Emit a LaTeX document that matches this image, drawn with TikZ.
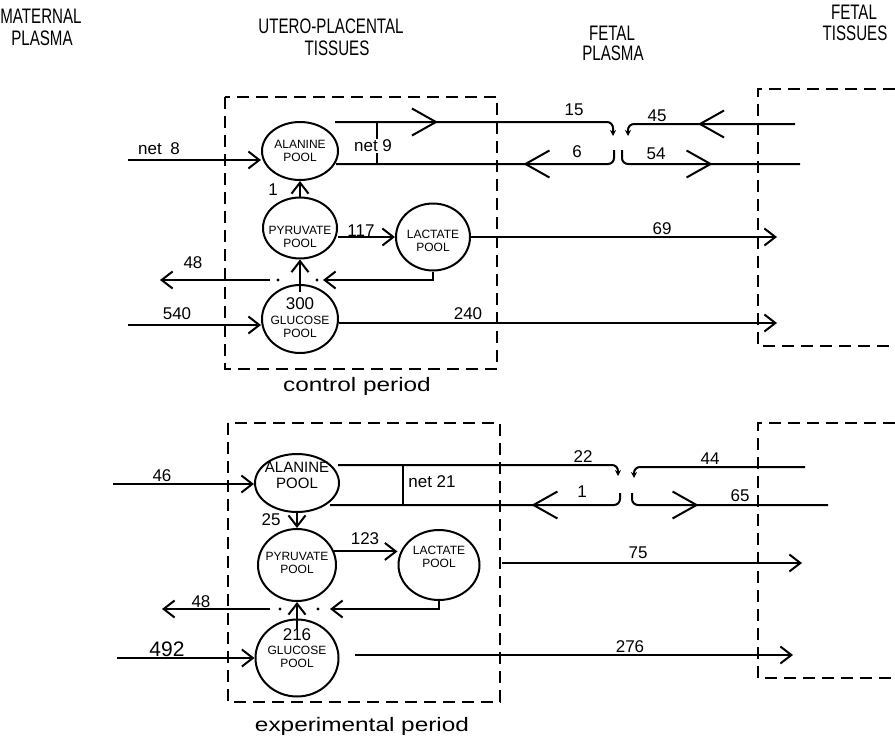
\documentclass[tikz,border=0pt]{standalone}
\usepackage{fontspec}
\setmainfont{Liberation Sans}
\usetikzlibrary{arrows.meta,shapes.geometric,decorations.markings}
\newcommand\hdrtxt[1]{\scalebox{0.72}[1]{\fontsize{21}{21}\selectfont #1}}
\newcommand\capttxt[1]{\scalebox{1.25}[1]{\fontsize{19.5}{20}\selectfont #1}}
\tikzset{
  flow/.style={line width=2pt},
  arr/.style={-{Straight Barb[length=11pt,width=17pt]}},
  tipS/.style={-{Stealth[length=6pt,width=6pt]}},
  bigR/.style={postaction={decorate,decoration={markings,mark=at position #1 with {\arrow{Straight Barb[length=24pt,width=27pt]}}}}},
  boxline/.style={line width=2pt, dash pattern=on 12pt off 7pt},
  pool/.style={ellipse, draw, line width=2pt, inner sep=0pt},
  ptxt/.style={align=center, inner sep=0pt, font=\fontsize{12}{13}\selectfont},
  num/.style={inner sep=0pt, font=\fontsize{17}{17}\selectfont},
  hdr/.style={inner sep=0pt},
}
\begin{document}
\begin{tikzpicture}[x=1pt,y=-1pt]
\useasboundingbox (0,0) rectangle (895,742);
\fill[white] (0,0) rectangle (895,742);

% headers
\node[hdr] (h1) at (41,16) {\hdrtxt{MATERNAL}};
\node[hdr] (h2) at (42,38) {\hdrtxt{PLASMA}};
\node[hdr] (h3) at (331,26) {\hdrtxt{UTERO-PLACENTAL}};
\node[hdr] (h4) at (337,48) {\hdrtxt{TISSUES}};
\node[hdr] (h5) at (612,33) {\hdrtxt{FETAL}};
\node[hdr] (h6) at (613,53) {\hdrtxt{PLASMA}};
\node[hdr] (h7) at (854,12) {\hdrtxt{FETAL}};
\node[hdr] (h8) at (855,33) {\hdrtxt{TISSUES}};

% ================= control period =================
\draw[boxline] (225,97) rectangle (497,369);
\draw[boxline] (895,89) -- (758,89) -- (758,346) -- (895,346);

\node[pool, minimum width=76pt, minimum height=58pt] (alaT) at (300,151) {};
\node[pool, minimum width=74pt, minimum height=61pt] (pyrT) at (300,228) {};
\node[pool, minimum width=74pt, minimum height=67pt] (lacT) at (433,237) {};
\node[pool, minimum width=76pt, minimum height=68pt] (gluT) at (300,319) {};
\node[ptxt] (talaT) at (300,151) {ALANINE\\POOL};
\node[ptxt] (tpyrT) at (300,237) {PYRUVATE\\POOL};
\node[ptxt] (tlacT) at (433,241) {LACTATE\\POOL};
\node[ptxt] (tgluT) at (300,318) {{\fontsize{17}{17}\selectfont 300}\\[2pt]GLUCOSE\\POOL};

\coordinate (m8) at (128,160);
\draw[flow,arr] (m8) -- (alaT.west |- m8);
\draw[flow,arr] (pyrT.north) -- (alaT.south);
\draw[flow,arr] (pyrT.east |- lacT.west) -- (lacT.west);
\draw[flow,arr] ([yshift=-8pt]gluT.north) -- (pyrT.south);
\coordinate (l48) at (323,280);
\draw[flow,arr] (lacT.south) |- (l48);
\coordinate (s48) at (270,280);
\coordinate (e48) at (160,280);
\draw[flow,arr] (s48) -- (e48);
\fill (278,280) circle[radius=1.7pt];
\fill (317,280) circle[radius=1.7pt];
\coordinate (m540) at (128,325);
\draw[flow,arr] (m540) -- (gluT.west |- m540);
\coordinate (e240) at (777,323);
\draw[flow,arr] (gluT.east |- e240) -- (e240);
\coordinate (e69) at (777,237);
\draw[flow,arr] (lacT.east) -- (e69);

\coordinate (a15) at (335,122);
\coordinate (j15) at (613,136);
\draw[flow,tipS,rounded corners=6pt,bigR=103pt] (a15) -- (a15 -| j15) -- (j15);
\coordinate (s45) at (795,124);
\coordinate (j45) at (628,136);
\draw[flow,tipS,rounded corners=6pt,bigR=97pt] (s45) -- (s45 -| j45) -- (j45);
\coordinate (j6) at (614,150);
\coordinate (e6) at (336,164);
\draw[flow,rounded corners=6pt,bigR=102pt] (j6) -- (j6 |- e6) -- (e6);
\coordinate (j54) at (622,150);
\coordinate (e54) at (800,164);
\draw[flow,rounded corners=6pt,bigR=102pt] (j54) -- (j54 |- e54) -- (e54);
\coordinate (n9a) at (377,122);
\coordinate (n9b) at (377,164);
\draw[flow] (n9a) -- (n9b);

\node[num] (lnet8) at (159,149) {net\enspace 8};
\node[num, fill=white, inner sep=1pt] (lnet9) at (373,146) {net 9};
\node[num] (l1) at (273,190) {1};
\node[num] (l117) at (361,231) {117};
\node[num] (l48t) at (193,263) {48};
\node[num] (l540) at (177,314) {540};
\node[num] (l240) at (468,314) {240};
\node[num] (l69) at (662,229) {69};
\node[num] (l15) at (574,110) {15};
\node[num] (l45) at (657,116) {45};
\node[num] (l6) at (577,152) {6};
\node[num] (l54) at (656,154) {54};
\node[inner sep=0pt] (cap1) at (357,386) {\capttxt{control period}};

% ================= experimental period =================
\draw[boxline] (228,423) rectangle (500,702);
\draw[boxline] (895,423) -- (758,423) -- (758,678) -- (895,678);

\node[pool, minimum width=84pt, minimum height=58pt] (alaB) at (297,483) {};
\node[pool, minimum width=78pt, minimum height=72pt] (pyrB) at (297,565) {};
\node[pool, minimum width=81pt, minimum height=70pt] (lacB) at (439,565) {};
\node[pool, minimum width=83pt, minimum height=77pt] (gluB) at (297,658) {};
\node[ptxt, font=\fontsize{15}{16}\selectfont] (talaB) at (297,475) {ALANINE\\POOL};
\node[ptxt] (tpyrB) at (297,563) {PYRUVATE\\POOL};
\node[ptxt] (tlacB) at (439,557) {LACTATE\\POOL};
\node[ptxt] (tgluB) at (297,648) {{\fontsize{17}{17}\selectfont 216}\\[1pt]GLUCOSE\\POOL};

\coordinate (m46) at (113,484);
\draw[flow,arr] (m46) -- (alaB.west |- m46);
\draw[flow,arr] (alaB.south) -- (pyrB.north);
\draw[flow,arr] (pyrB.20) -- (lacB.west |- pyrB.20);
\coordinate (l48b) at (330,609);
\draw[flow,arr] (lacB.south) |- (l48b);
\coordinate (s48b) at (270,609);
\coordinate (e48b) at (162,609);
\draw[flow,arr] (s48b) -- (e48b);
\fill (280,609) circle[radius=1.7pt];
\fill (318,609) circle[radius=1.7pt];
\draw[flow,arr] ([yshift=-10pt]gluB.north) -- (pyrB.south);
\coordinate (m492) at (117,658);
\draw[flow,arr] (m492) -- (gluB.west |- m492);
\coordinate (s276) at (355,655);
\coordinate (e276) at (793,655);
\draw[flow,arr] (s276) -- (e276);
\coordinate (s75) at (502,563);
\coordinate (e75) at (802,563);
\draw[flow,arr] (s75) -- (e75);

\coordinate (a22) at (338,465);
\coordinate (j22) at (618,476);
\draw[flow,tipS,rounded corners=6pt] (a22) -- (a22 -| j22) -- (j22);
\coordinate (s44) at (805,467);
\coordinate (j44) at (634,478);
\draw[flow,tipS,rounded corners=6pt] (s44) -- (s44 -| j44) -- (j44);
\coordinate (j1) at (620,493);
\coordinate (e1) at (330,505);
\draw[flow,rounded corners=6pt,bigR=98pt] (j1) -- (j1 |- e1) -- (e1);
\coordinate (j65) at (632,493);
\coordinate (e65) at (828,505);
\draw[flow,rounded corners=6pt,bigR=76pt] (j65) -- (j65 |- e65) -- (e65);
\coordinate (n21a) at (403,465);
\coordinate (n21b) at (403,505);
\draw[flow] (n21a) -- (n21b);

\node[num] (l46) at (162,476) {46};
\node[num] (lnet21) at (432,482) {net 21};
\node[num] (l25) at (271,520) {25};
\node[num] (l123) at (365,539) {123};
\node[num] (l48e) at (201,602) {48};
\node[num, font=\fontsize{21}{21}\selectfont] (l492) at (167,649) {492};
\node[num] (l22) at (583,457) {22};
\node[num] (l44) at (710,459) {44};
\node[num] (l1b) at (582,492) {1};
\node[num] (l65) at (740,496) {65};
\node[num] (l75) at (638,553) {75};
\node[num] (l276) at (630,647) {276};
\node[inner sep=0pt] (cap2) at (362,726) {\capttxt{experimental period}};
\end{tikzpicture}
\end{document}
